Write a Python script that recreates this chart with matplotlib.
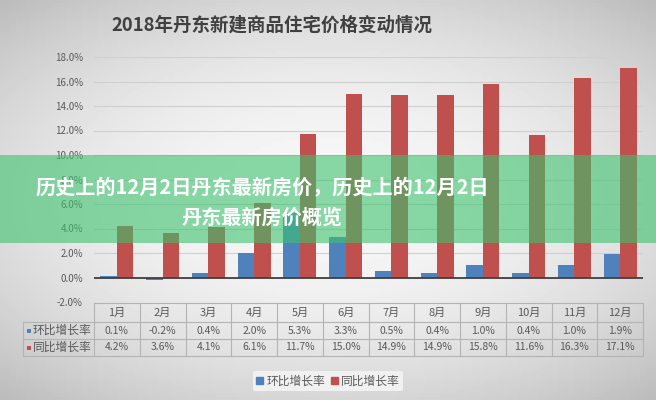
"""
2018年丹东新建商品住宅价格变动情况 - bar chart with data table and green banner
"""

import numpy as np
import matplotlib
matplotlib.use("Agg")
import matplotlib.pyplot as plt
from matplotlib.patches import Rectangle, Patch
from matplotlib.lines import Line2D
import matplotlib.transforms as mtransforms

plt.rcParams['font.family'] = ['Noto Sans CJK SC', 'DejaVu Sans']

months = ['1月', '2月', '3月', '4月', '5月', '6月', '7月', '8月', '9月', '10月', '11月', '12月']
mom_rate = [0.1, -0.2, 0.4, 2.0, 5.3, 3.3, 0.5, 0.4, 1.0, 0.4, 1.0, 1.9]     # 环比
yoy_rate = [4.2, 3.6, 4.1, 6.1, 11.7, 15.0, 14.9, 14.9, 15.8, 11.6, 16.3, 17.1]  # 同比
series_names = ['环比增长率', '同比增长率']
colors = ['#4f81bd', '#c0504d']

title = '2018年丹东新建商品住宅价格变动情况'
banner = '历史上的12月2日丹东最新房价，历史上的12月2日\n丹东最新房价概览'

W, H = 656, 400
fig = plt.figure(figsize=(W / 100, H / 100), dpi=100)


def fy(y):
    # pixel row -> figure fraction
    return 1 - y / H


# background: soft radial gray gradient
bg = fig.add_axes([0, 0, 1, 1], zorder=-10)
gx, gy = np.meshgrid(np.linspace(-1, 1, 200), np.linspace(-1, 1, 120))
r = np.sqrt((gx * 0.9) ** 2 + (gy * 1.0) ** 2)
bg.imshow(0.97 - 0.13 * np.clip(r, 0, 1.4) ** 2, cmap='gray', vmin=0, vmax=1,
          aspect='auto', extent=[0, 1, 0, 1])
bg.set_axis_off()

# main axes
ax = fig.add_axes([94 / W, fy(302), (643 - 94) / W, (302 - 57) / H])
ax.patch.set_alpha(0)
x = np.arange(len(months))
bw = 0.36
ax.bar(x - bw / 2, mom_rate, bw, color=colors[0], zorder=3)
ax.bar(x + bw / 2, yoy_rate, bw, color=colors[1], zorder=3)
ax.axhline(0, color='#404040', lw=1.3, zorder=4)

ax.set_xlim(-0.5, len(months) - 0.5)
ax.set_ylim(-2, 18)
ax.set_yticks(np.arange(-2, 19, 2))
ax.set_yticklabels([f'{v:.1f}%' for v in np.arange(-2, 19, 2)])
ax.tick_params(axis='y', length=0, labelsize=7, labelcolor='#595959', pad=8)
ax.set_xticks([])
ax.grid(axis='y', color='#d0d0d0', lw=0.8, zorder=0)
for s in ax.spines.values():
    s.set_visible(False)

fig.text(272 / W, fy(25), title, ha='center', va='center', fontsize=13.3,
         fontweight='bold', color='#404040')

# data table under the axes, columns follow the x data coords
tr = mtransforms.blended_transform_factory(ax.transData, fig.transFigure)
line_c = '#b3b3b3'
row_y = [303, 322, 339, 356]
x0, x1 = -0.5, len(months) - 0.5
label_left = 23 / W

# horizontal lines
fig.add_artist(Line2D([x0, x1], [fy(row_y[0])] * 2, transform=tr, color=line_c, lw=0.8))
for yy in row_y[1:]:
    fig.add_artist(Line2D([label_left, 643 / W], [fy(yy)] * 2, transform=fig.transFigure,
                          color=line_c, lw=0.8))
# vertical lines
for i in range(len(months) + 1):
    fig.add_artist(Line2D([i - 0.5, i - 0.5], [fy(row_y[0]), fy(row_y[3])], transform=tr,
                          color=line_c, lw=0.8))
fig.add_artist(Line2D([label_left, label_left], [fy(row_y[1]), fy(row_y[3])],
                      transform=fig.transFigure, color=line_c, lw=0.8))

for i, m in enumerate(months):
    fig.text(i, fy((row_y[0] + row_y[1]) / 2), m, transform=tr, ha='center', va='center',
             fontsize=8, color='#595959')
    fig.text(i, fy((row_y[1] + row_y[2]) / 2), f'{mom_rate[i]:.1f}%', transform=tr,
             ha='center', va='center', fontsize=7.5, color='#595959')
    fig.text(i, fy((row_y[2] + row_y[3]) / 2), f'{yoy_rate[i]:.1f}%', transform=tr,
             ha='center', va='center', fontsize=7.5, color='#595959')

for k, name in enumerate(series_names):
    yc = (row_y[k + 1] + row_y[k + 2]) / 2
    fig.add_artist(Rectangle((27 / W, fy(yc + 2)), 4 / W, 4 / H, transform=fig.transFigure,
                             facecolor=colors[k], edgecolor='none'))
    fig.text(33 / W, fy(yc), name, ha='left', va='center', fontsize=8.5, color='#595959')

# legend
handles = [Patch(color=c, label=n) for c, n in zip(colors, series_names)]
leg = fig.legend(handles=handles, loc='center', bbox_to_anchor=(328 / W, fy(381)), ncol=2,
                 frameon=True, fontsize=8.5, handlelength=0.6, handleheight=0.6,
                 handletextpad=0.25, columnspacing=0.5, borderpad=0.3)
leg.get_frame().set_facecolor('#f4f4f4')
leg.get_frame().set_edgecolor('none')
leg.get_frame().set_alpha(0.9)
for t in leg.get_texts():
    t.set_color('#595959')

# green banner over the chart
fig.add_artist(Rectangle((0, fy(243)), 1, (243 - 155) / H, transform=fig.transFigure,
                         facecolor=(60 / 255, 195 / 255, 110 / 255), alpha=0.6,
                         edgecolor='none', zorder=20))
fig.text(262 / W, fy(202), banner, ha='center', va='center', fontsize=14.5,
         fontweight='bold', color='white', linespacing=1.5, zorder=21)

fig.savefig('out.png', dpi=100)
